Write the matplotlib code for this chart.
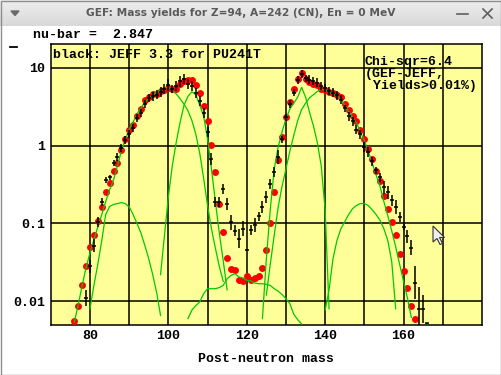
import matplotlib
matplotlib.use('Agg')
import matplotlib.pyplot as plt
from matplotlib.colors import LinearSegmentedColormap
from matplotlib.patches import Rectangle, Polygon
from matplotlib.lines import Line2D
import numpy as np

# ---------------- data ----------------
gef_mass = list(range(76, 164))
gef_yield = [0.0055, 0.0088, 0.0163, 0.0287, 0.050, 0.070, 0.107, 0.164, 0.256, 0.334,
             0.468, 0.60, 0.89, 1.2, 1.6, 1.84, 2.43, 2.93, 3.82, 4.2,
             4.56, 4.66, 5.03, 5.1, 5.5, 5.3, 5.4, 6.1, 6.8, 6.9,
             7.0, 6.0, 4.8, 3.2, 2.05, 1.03, 0.46, 0.18, 0.078, 0.036,
             0.026, 0.025, 0.0186, 0.018, 0.0213, 0.019, 0.020, 0.021, 0.0265, 0.046,
             0.102, 0.256, 0.65, 1.29, 2.33, 3.68, 5.4, 7.26, 8.57, 7.26,
             6.57, 6.26, 5.96, 5.4, 5.2, 4.95, 4.7, 4.52, 4.2, 3.4,
             2.84, 2.38, 2.05, 1.57, 1.23, 0.9, 0.67, 0.47, 0.35, 0.223,
             0.155, 0.104, 0.070, 0.041, 0.0247, 0.015, 0.0086, 0.006]

jeff_mass = list(range(79, 167))
jeff_yield = [0.011, 0.028, 0.052, 0.104, 0.19, 0.36, 0.39, 0.60, 0.71, 0.93,
              1.17, 1.42, 1.67, 2.25, 2.64, 3.4, 4.1, 4.3, 4.5, 4.9,
              5.4, 6.0, 5.35, 5.8, 6.7, 7.1, 6.1, 5.8, 4.7, 3.7,
              2.65, 1.5, 0.67, 0.19, 0.19, 0.28, 0.176, 0.104, 0.081, 0.064,
              0.086, 0.045, 0.083, 0.095, 0.123, 0.163, 0.22, 0.325, 0.46, 0.71,
              1.2, 2.3, 3.4, 4.8, 6.9, 8.25, 7.3, 7.05, 6.7, 6.45,
              5.83, 5.45, 5.03, 4.8, 4.45, 3.9, 3.0, 2.38, 2.05, 1.6,
              1.4, 0.96, 0.83, 0.63, 0.48, 0.39, 0.29, 0.25, 0.197, 0.163,
              0.122, 0.09, 0.068, 0.049, 0.0174, 0.008, 0.008, 0.0052]
jeff_relerr = [0.28, 0.20, 0.22, 0.17, 0.13, 0.10, 0.08, 0.10, 0.13, 0.12,
               0.12, 0.12, 0.12, 0.12, 0.12, 0.12, 0.13, 0.14, 0.14, 0.15,
               0.16, 0.18, 0.12, 0.15, 0.18, 0.16, 0.16, 0.16, 0.16, 0.16,
               0.16, 0.16, 0.19, 0.16, 0.16, 0.16, 0.19, 0.25, 0.19, 0.34,
               0.25, 0.01, 0.16, 0.22, 0.13, 0.19, 0.19, 0.16, 0.16, 0.22,
               0.12, 0.12, 0.12, 0.12, 0.12, 0.13, 0.10, 0.13, 0.13, 0.13,
               0.13, 0.13, 0.13, 0.13, 0.14, 0.13, 0.12, 0.14, 0.14, 0.14,
               0.14, 0.16, 0.16, 0.14, 0.12, 0.13, 0.22, 0.22, 0.19, 0.22,
               0.16, 0.10, 0.22, 0.25, 0.65, 0.90, 0.50, 0.02]

# fission-mode contributions (GEF), green curves
s2_light_mass = list(range(76, 115))
s2_light = [0.0054, 0.009, 0.016, 0.027, 0.042, 0.062, 0.09, 0.13, 0.19, 0.27,
            0.36, 0.55, 0.85, 1.2, 1.6, 2.0, 2.55, 3.05, 3.6, 4.05,
            4.45, 4.85, 5.15, 5.45, 5.65, 5.1, 4.6, 4.0, 3.4, 2.8,
            2.1, 1.4, 0.8, 0.38, 0.17, 0.085, 0.048, 0.028, 0.018]
s1_light_mass = list(range(98, 116))
s1_light = [0.022, 0.07, 0.22, 0.55, 1.1, 2.0, 3.3, 4.3, 4.9, 4.5,
            3.3, 2.4, 1.2, 0.5, 0.19, 0.075, 0.033, 0.014]
s3_light_mass = list(range(80, 99))
s3_light = [0.008, 0.016, 0.03, 0.06, 0.13, 0.165, 0.175, 0.18, 0.185, 0.18,
            0.163, 0.13, 0.1, 0.075, 0.052, 0.035, 0.022, 0.013, 0.0066]
sl_mass = list(range(105, 135))
sl_yield = [0.006, 0.0077, 0.0088, 0.0098, 0.0125, 0.0145, 0.0145, 0.0145, 0.015, 0.016,
            0.0195, 0.0215, 0.0226, 0.0205, 0.02, 0.0186, 0.0183, 0.0172, 0.0168, 0.0168,
            0.0165, 0.016, 0.0145, 0.0135, 0.0122, 0.0108, 0.0093, 0.0068, 0.0058, 0.0051]
s1_heavy_mass = list(range(124, 142))
s1_heavy = [0.006, 0.035, 0.15, 0.5, 0.95, 1.5, 2.2, 2.95, 3.5, 4.2,
            5.6, 4.2, 2.7, 1.8, 1.1, 0.55, 0.15, 0.008]
s2_heavy_mass = list(range(125, 163))
s2_heavy = [0.012, 0.03, 0.07, 0.16, 0.3, 0.5, 0.85, 1.35, 2.1, 2.9,
            3.5, 4.1, 4.5, 4.95, 5.3, 5.15, 4.85, 4.6, 4.35, 4.0,
            3.3, 2.75, 2.3, 1.95, 1.5, 1.15, 0.85, 0.6, 0.42, 0.3,
            0.19, 0.125, 0.08, 0.05, 0.03, 0.018, 0.011, 0.0062]
s3_heavy_mass = list(range(140, 159))
s3_heavy = [0.0077, 0.014, 0.035, 0.06, 0.085, 0.105, 0.13, 0.155, 0.17, 0.18,
            0.18, 0.17, 0.15, 0.13, 0.11, 0.085, 0.06, 0.032, 0.008]
green_curves = [(s2_light_mass, s2_light), (s1_light_mass, s1_light),
                (s3_light_mass, s3_light), (sl_mass, sl_yield),
                (s1_heavy_mass, s1_heavy), (s2_heavy_mass, s2_heavy),
                (s3_heavy_mass, s3_heavy)]

x_major = [80, 100, 120, 140, 160]
x_minor = [90, 110, 130, 150, 170]
y_ticks = [0.01, 0.1, 1, 10]
y_labels = ['0.01', '0.1', '1', '10']

window_title = 'GEF: Mass yields for Z=94, A=242 (CN), En = 0 MeV'
nubar_text = 'nu-bar =  2.847'
legend_text = 'black: JEFF 3.3 for PU241T'
chi_lines = ['Chi-sqr=6.4', '(GEF-JEFF,', ' Yields>0.01%)']
xlabel_text = 'Post-neutron mass'

# ---------------- figure ----------------
W, H = 502, 375
fig = plt.figure(figsize=(W / 100, H / 100), dpi=100, facecolor='white')

def fx(x):
    return x / W

def fy(y):
    return 1 - y / H

mono = dict(family=['Liberation Mono', 'DejaVu Sans Mono'], weight='bold', size=9.5)

# window title bar
tb = fig.add_axes([0, fy(26), 1, 26 / H])
grad = np.linspace(0, 1, 26)[:, None]
tb.imshow(grad, aspect='auto', cmap=LinearSegmentedColormap.from_list('tb', ['#eeeeee', '#d9d9d9']),
          extent=[0, 1, 0, 1])
tb.set_axis_off()
fig.text(fx(240.5), fy(13), window_title, ha='center', va='center', color='#5a5a5a',
         fontsize=7.7, family='DejaVu Sans', weight='semibold')
fig.patches.append(Polygon([(fx(11), fy(11)), (fx(19), fy(11)), (fx(15), fy(15.5))],
                           closed=True, transform=fig.transFigure, color='#6a6a6a'))
fig.lines.append(Line2D([fx(457), fx(468)], [fy(14), fy(14)], transform=fig.transFigure,
                        color='#606060', lw=1.2))
fig.lines.append(Line2D([fx(483), fx(492)], [fy(9), fy(18)], transform=fig.transFigure,
                        color='#606060', lw=1.2))
fig.lines.append(Line2D([fx(483), fx(492)], [fy(18), fy(9)], transform=fig.transFigure,
                        color='#606060', lw=1.2))
fig.patches.append(Rectangle((fx(0.5), fy(374.5)), fx(501), 373.5 / H, transform=fig.transFigure,
                             fill=False, edgecolor='#8e8e8e', lw=1.0))

# plot area
ax = fig.add_axes([fx(50.8), fy(324.7), fx(481.9) - fx(50.8), (324.7 - 44.3) / H])
ax.set_facecolor('#ffff99')
ax.set_yscale('log')
ax.set_xlim(70, 180)
ax.set_ylim(0.005, 20)

ax.set_xticks(x_major)
ax.set_xticklabels([str(v) for v in x_major], **mono)
ax.set_xticks(x_minor, minor=True)
ax.set_yticks(y_ticks)
ax.set_yticklabels(y_labels, **mono)
ax.yaxis.set_minor_locator(matplotlib.ticker.NullLocator())
ax.tick_params(which='both', length=0)
ax.tick_params(axis='x', pad=4)
ax.tick_params(axis='y', pad=4)
ax.grid(True, which='both', color='black', lw=1.1)
ax.set_axisbelow(True)
for sp in ax.spines.values():
    sp.set_color('black')
    sp.set_linewidth(1.1)
ax.set_xlabel(xlabel_text, labelpad=8, **mono)

# GEF yields (red dots)
ax.plot(gef_mass, gef_yield, 'o', color='#ff0000', ms=5.0, mec='none', zorder=3)
# GEF mode contributions (green)
for m, v in green_curves:
    ax.plot(m, v, '-', color='#00c800', lw=0.9, zorder=4)
# JEFF 3.3 evaluation (black error bars)
jm = np.array(jeff_mass, dtype=float)
jy = np.array(jeff_yield)
je = np.array(jeff_relerr)
ax.vlines(jm, jy / (1 + je), jy * (1 + je), color='black', lw=1.1, zorder=5)
ax.plot(jm, jy, '_', color='black', ms=3.5, mew=1.1, zorder=5)

# texts
fig.text(fx(33), fy(35), nubar_text, ha='left', va='center', color='black', **mono)
fig.text(fx(53.5), fy(55), legend_text, ha='left', va='center', color='black', **mono)
for i, t in enumerate(chi_lines):
    fig.text(fx(365), fy(62 + 12 * i), t, ha='left', va='center', color='black', **mono)
fig.lines.append(Line2D([fx(10), fx(17)], [fy(47), fy(47)], transform=fig.transFigure,
                        color='black', lw=1.3))

# mouse pointer
tip = (433, 226)
arrow = [(0, 0), (0, 16), (4, 12.5), (7, 18.5), (9.5, 17.5), (6.5, 11.5), (11.5, 11.5)]
fig.patches.append(Polygon([(fx(tip[0] + a), fy(tip[1] + b)) for a, b in arrow], closed=True,
                           transform=fig.transFigure, facecolor='#efefef', edgecolor='#333333',
                           lw=0.8, zorder=10))

fig.savefig('out.png', dpi=100, facecolor='white')
